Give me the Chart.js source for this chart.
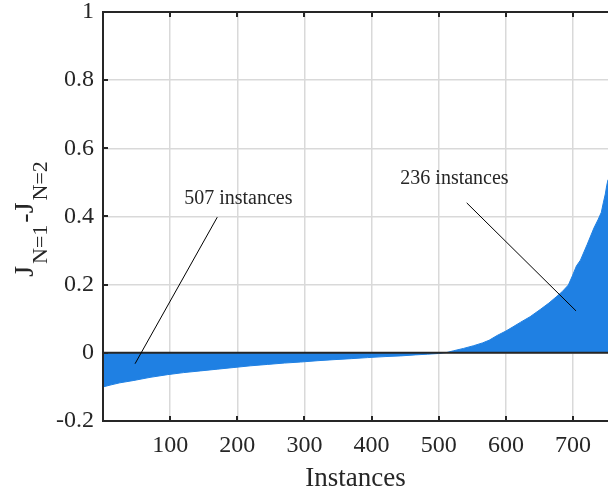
<!DOCTYPE html>
<html><head><meta charset="utf-8">
<script src="https://cdn.jsdelivr.net/npm/chart.js@4/dist/chart.umd.min.js"></script>
<style>html,body{margin:0;padding:0;background:#fff}#c{display:block}</style>
</head><body>
<canvas id="c" width="608" height="490"></canvas>
<script>
// sorted instance index and J(N=1)-J(N=2) values
const instanceIdx = [0,12,25,46,70,96,120,145,170,195,220,245,270,294,320,344,370,394,420,443,465,483,500,507,512,522,537,552,565,575,587,600,612,622,636,651,664,676,684,693,699,705,711,721,731,737,742,745,748,750,752];
const diffValues = [-0.100,-0.094,-0.088,-0.081,-0.072,-0.064,-0.058,-0.053,-0.048,-0.043,-0.038,-0.034,-0.030,-0.027,-0.023,-0.020,-0.017,-0.014,-0.011,-0.009,-0.006,-0.004,-0.002,0,0.001,0.006,0.013,0.021,0.029,0.037,0.051,0.064,0.078,0.090,0.106,0.127,0.146,0.166,0.180,0.199,0.226,0.255,0.272,0.318,0.366,0.390,0.412,0.440,0.466,0.490,0.508];
const xTickValues = [100,200,300,400,500,600,700];
const xTickLabels = ['100','200','300','400','500','600','700'];
const yTickValues = [-0.2,0,0.2,0.4,0.6,0.8,1];
const yTickLabels = ['-0.2','0','0.2','0.4','0.6','0.8','1'];
const xRange = [0,752];
const yRange = [-0.2,1];
const xTitle = 'Instances';
const yTitleParts = [['J',false],['N=1',true],['-J',false],['N=2',true]];
const annotationTexts = ['507 instances','236 instances'];
const annotationAnchorX = [201.5,523.4];
const annotationAnchorY = [0.438,0.494];
const annotationLineX = [[170.2,47.7],[541.6,704.4]];
const annotationLineY = [[0.398,-0.032],[0.440,0.123]];

const INK = '#262626';
const SERIF = '"Liberation Serif", "Times New Roman", serif';

const framePlugin = {
  id: 'frame',
  afterDraw(chart) {
    const {ctx, chartArea: a, scales: {x, y}} = chart;
    ctx.save();
    ctx.strokeStyle = INK;
    ctx.lineWidth = 2;
    ctx.beginPath();
    ctx.moveTo(a.right + 2, a.top); ctx.lineTo(a.left, a.top);
    ctx.lineTo(a.left, a.bottom); ctx.lineTo(a.right + 2, a.bottom);
    ctx.stroke();
    ctx.beginPath();
    x.ticks.forEach(t => {
      const px = Math.round(x.getPixelForValue(t.value));
      ctx.moveTo(px, a.bottom); ctx.lineTo(px, a.bottom - 5);
      ctx.moveTo(px, a.top); ctx.lineTo(px, a.top + 5);
    });
    y.ticks.forEach(t => {
      const py = Math.round(y.getPixelForValue(t.value));
      ctx.moveTo(a.left, py); ctx.lineTo(a.left + 5, py);
    });
    ctx.stroke();
    // annotation texts
    ctx.fillStyle = INK;
    ctx.font = '20px ' + SERIF;
    ctx.textAlign = 'center';
    ctx.textBaseline = 'alphabetic';
    annotationTexts.forEach((t, i) => {
      ctx.fillText(t, x.getPixelForValue(annotationAnchorX[i]), y.getPixelForValue(annotationAnchorY[i]));
    });
    // y title with subscripts
    const mainFont = '28px ' + SERIF, subFont = '22px ' + SERIF;
    const gap = 2;
    let total = 0;
    const widths = yTitleParts.map(([t, sub]) => { ctx.font = sub ? subFont : mainFont; const w = ctx.measureText(t).width + gap; total += w; return w; });
    const cy = (a.top + a.bottom) / 2 + 1.5;
    ctx.translate(33, cy + total / 2);
    ctx.rotate(-Math.PI / 2);
    ctx.textAlign = 'left';
    let cur = 0;
    yTitleParts.forEach(([t, sub], i) => {
      ctx.font = sub ? subFont : mainFont;
      ctx.fillText(t, cur, sub ? 14 : 0);
      cur += widths[i];
    });
    ctx.restore();
  }
};

const datasets = [
  ...annotationLineX.map((xs, i) => ({
    data: xs.map((xv, j) => ({x: xv, y: annotationLineY[i][j]})),
    borderColor: '#000', borderWidth: 1, pointRadius: 0, fill: false, order: 0
  })),
  {
    data: [{x: xRange[0], y: 0}, {x: xRange[1], y: 0}],
    borderColor: INK, borderWidth: 2, pointRadius: 0, fill: false, order: 1
  },
  {
    data: instanceIdx.map((xv, i) => ({x: xv, y: diffValues[i]})),
    borderColor: '#1f80e3', backgroundColor: '#1f80e3', borderWidth: 1,
    pointRadius: 0, fill: 'origin', tension: 0, order: 2
  }
];

new Chart(document.getElementById('c'), {
  type: 'line',
  data: {datasets},
  options: {
    responsive: false, animation: false, devicePixelRatio: 1,
    layout: {padding: {top: 12, right: 0, left: 0, bottom: 0}},
    plugins: {legend: {display: false}, tooltip: {enabled: false}},
    scales: {
      x: {
        type: 'linear', min: xRange[0], max: xRange[1],
        afterBuildTicks: s => { s.ticks = xTickValues.map(v => ({value: v})); },
        afterFit: s => { s.height = 69; s.paddingLeft = 0; s.paddingRight = 0; },
        ticks: {callback: (v, i) => xTickLabels[i], color: INK, padding: 10, maxRotation: 0,
                font: {family: SERIF, size: 24, lineHeight: 1.2}},
        grid: {color: '#d9d9d9', lineWidth: 1.5, drawTicks: false},
        border: {display: false},
        title: {display: true, text: xTitle, color: INK, padding: {top: 0, bottom: 0},
                font: {family: SERIF, size: 27, lineHeight: 0.85}}
      },
      y: {
        min: yRange[0], max: yRange[1],
        afterBuildTicks: s => { s.ticks = yTickValues.map(v => ({value: v})); },
        afterFit: s => { s.width = 103; s.paddingTop = 0; s.paddingBottom = 0; },
        ticks: {callback: (v, i) => yTickLabels[i], color: INK, padding: 9,
                font: {family: SERIF, size: 24, lineHeight: 1}},
        grid: {color: '#d9d9d9', lineWidth: 1.5, drawTicks: false},
        border: {display: false}
      }
    }
  },
  plugins: [framePlugin]
});
</script>
</body></html>
